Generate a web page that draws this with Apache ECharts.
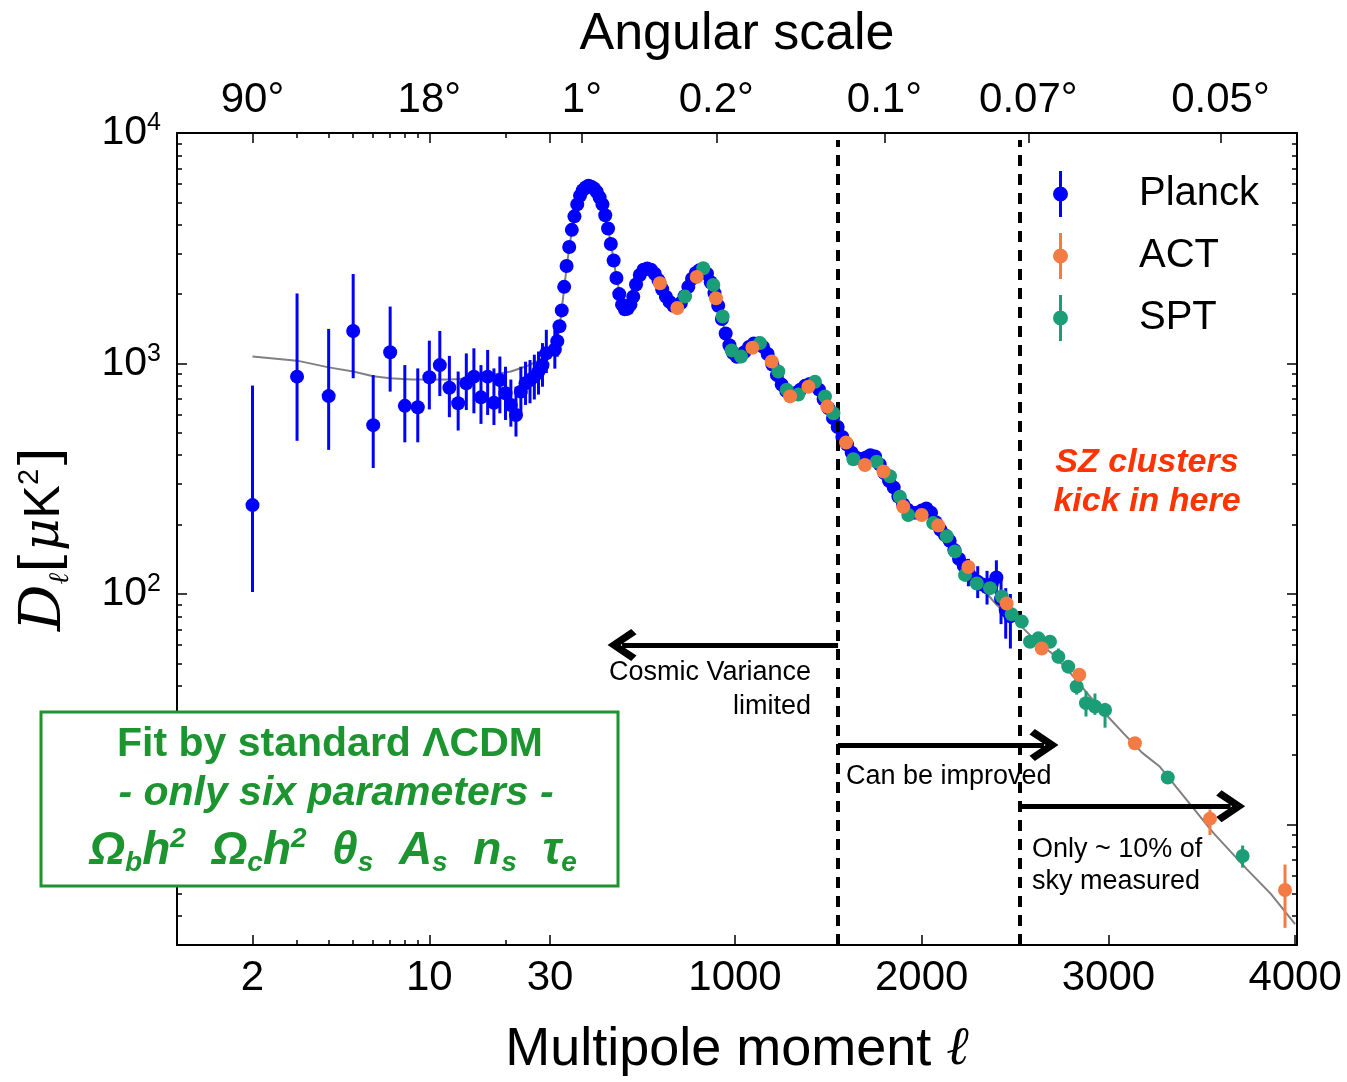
<!DOCTYPE html>
<html>
<head>
<meta charset="utf-8">
<title>CMB TT power spectrum</title>
<script src="https://cdn.jsdelivr.net/npm/echarts@6/dist/echarts.min.js"></script>
<style>
  html, body { margin: 0; padding: 0; background: #fff; }
  #chart { width: 1347px; height: 1082px; }
</style>
</head>
<body>
<div id="chart"></div>
<script>
// Planck low-l points: [l, D_l, lower, upper]
const planckLow = [
  [2, 243, 102, 802], [3, 877, 462, 2013], [4, 722, 422, 1413], [5, 1384, 863, 2444],
  [6, 540, 352, 891], [7, 1119, 755, 1766], [8, 655, 455, 984], [9, 646, 455, 952],
  [10, 871, 632, 1256], [11, 984, 722, 1384], [12, 785, 585, 1079], [13, 672, 512, 923],
  [14, 820, 628, 1106], [15, 877, 608, 1164], [16, 713, 547, 984], [17, 877, 598, 1145],
  [18, 676, 541, 952], [19, 848, 608, 1072], [20, 743, 569, 968], [21, 661, 532, 852],
  [22, 598, 482, 793], [23, 755, 589, 968], [24, 820, 661, 1018], [25, 848, 672, 1035],
  [26, 877, 698, 1092], [27, 923, 733, 1127], [28, 984, 793, 1226], [29, 1108, 909, 1400]
];

// Planck binned high-l: [l, D_l]
const planck = [
  [35, 1150], [48, 1250], [60, 1450], [72, 1700], [85, 2150], [98, 2650], [112, 3200], [126, 3800],
  [140, 4350], [155, 4900], [170, 5350], [185, 5650], [200, 5800], [215, 5900], [230, 5850], [245, 5750],
  [260, 5550], [275, 5250], [290, 4900], [305, 4400], [320, 3850], [335, 3300], [350, 2800], [365, 2350],
  [380, 2000], [395, 1800], [410, 1720], [425, 1730], [440, 1800], [455, 1950], [470, 2200], [490, 2420],
  [510, 2550], [530, 2580], [550, 2550], [570, 2450], [590, 2300], [610, 2100], [630, 1950], [650, 1850],
  [670, 1780], [690, 1770], [710, 1830], [730, 1960], [750, 2150], [770, 2330], [790, 2470], [810, 2540],
  [830, 2550], [850, 2450], [870, 2250], [890, 2020], [910, 1780], [930, 1560], [950, 1350], [970, 1200],
  [990, 1110], [1010, 1070], [1030, 1075], [1050, 1120], [1075, 1180], [1100, 1220], [1125, 1220], [1150, 1180],
  [1175, 1100], [1200, 990], [1225, 890], [1250, 810], [1275, 760], [1300, 740], [1325, 745], [1350, 770],
  [1375, 800], [1400, 815], [1425, 805], [1450, 770], [1475, 700], [1500, 640], [1525, 580], [1550, 530],
  [1575, 480], [1600, 445], [1625, 410], [1650, 390], [1675, 385], [1700, 390], [1725, 400], [1750, 395],
  [1775, 365], [1800, 335], [1825, 310], [1850, 290], [1875, 265], [1900, 245], [1925, 232], [1950, 225],
  [1975, 225], [2000, 230], [2025, 235], [2050, 225], [2075, 205], [2100, 190], [2125, 180], [2150, 170],
  [2175, 155], [2200, 142], [2225, 133], [2250, 125], [2275, 117], [2300, 113], [2325, 110], [2350, 107],
  [2375, 110], [2400, 118], [2425, 95], [2450, 85], [2475, 80]
];
// visible Planck error bars at high l: [l, lower, upper]
const planckErr = [
  [35, 950, 1400], [48, 1070, 1430], [2200, 128, 158], [2250, 108, 142], [2300, 96, 132],
  [2350, 90, 126], [2400, 97, 140], [2425, 74, 118], [2450, 64, 106], [2475, 58, 100]
];

const act = [
  [598, 2230], [691, 1740], [795, 2375], [898, 1920], [1093, 1170], [1197, 1020], [1295, 720], [1393, 793],
  [1494, 650], [1595, 454], [1696, 363], [1795, 340], [1901, 239], [2000, 220], [2089, 198], [2250, 131],
  [2455, 91], [2643, 58], [2844, 44.6], [3142, 22.5], [3544, 10.6], [3946, 5.2]
];
const actErr = [[3544, 9.0, 11.6], [3946, 3.56, 6.7]];

const spt = [
  [732, 1951], [830, 2588], [884, 2193], [934, 1600], [982, 1140], [1032, 1072], [1134, 1226], [1232, 923],
  [1277, 770], [1339, 733], [1428, 833], [1482, 720], [1527, 608], [1634, 384], [1759, 375], [1830, 324],
  [1883, 264], [1928, 220], [2062, 203], [2134, 178], [2178, 153], [2232, 121], [2295, 111], [2366, 106],
  [2429, 97.5], [2482, 81.6], [2536, 75.9], [2580, 62.1], [2625, 64.2], [2687, 62.1], [2732, 53.4], [2785, 48.4],
  [2830, 39.7], [2880, 33.6], [2928, 32.5], [2982, 31.4], [3318, 16.0], [3719, 7.3]
];
const sptErr = [[2732, 50, 58], [2830, 36.6, 42.5], [2880, 29.4, 37.8], [2928, 29.9, 37], [2982, 26.3, 33.7], [3719, 6.5, 8.1]];

// LCDM best fit curve
const theory = [
  [2, 1072], [3, 1029], [4, 962], [5, 923], [6, 880], [7, 863], [8.5, 852], [10, 852], [12, 852], [15, 863],
  [17.5, 891], [21, 923], [24, 970], [30, 1080], [40, 1180], [60, 1430], [80, 1950], [100, 2700], [120, 3500],
  [150, 4600], [180, 5400], [200, 5750], [220, 5880], [240, 5800], [260, 5550], [280, 5150], [300, 4600],
  [320, 3850], [340, 3150], [360, 2500], [380, 2050], [400, 1790], [420, 1720], [440, 1790], [460, 2000],
  [480, 2300], [510, 2540], [540, 2580], [570, 2450], [600, 2200], [630, 1950], [660, 1800], [690, 1760],
  [720, 1880], [750, 2150], [780, 2400], [810, 2540], [830, 2550], [860, 2350], [890, 2020], [920, 1660],
  [950, 1350], [980, 1150], [1010, 1070], [1040, 1090], [1080, 1180], [1120, 1225], [1160, 1160], [1200, 990],
  [1240, 830], [1280, 750], [1320, 745], [1360, 780], [1400, 815], [1440, 785], [1480, 690], [1520, 590],
  [1560, 510], [1600, 445], [1640, 400], [1680, 385], [1720, 395], [1760, 385], [1800, 340], [1840, 300],
  [1880, 262], [1920, 235], [1960, 225], [2000, 228], [2040, 228], [2080, 208], [2120, 183], [2160, 163],
  [2200, 143], [2240, 128], [2280, 116], [2320, 106], [2360, 98], [2400, 90], [2440, 84], [2480, 79],
  [2536, 72], [2600, 64], [2700, 55], [2800, 45], [2900, 36], [2982, 30.3], [3080, 24.9], [3180, 20.5],
  [3276, 17.8], [3419, 12.8], [3562, 9.2], [3741, 6.4], [3870, 5.0], [4000, 3.7]
];

const bottomLabelL = [2, 10, 30, 1000, 2000, 3000, 4000];
const bottomMinorL = [3, 4, 5, 6, 7, 8, 9, 20];
const angleL = [2, 10, 180, 900, 1800, 2571, 3600];
const angleLabels = ['90°', '18°', '1°', '0.2°', '0.1°', '0.07°', '0.05°'];
const yMajor = [10, 100, 1000, 10000];
const yMinor = [4, 5, 6, 7, 8, 9, 20, 30, 40, 50, 60, 70, 80, 90, 200, 300, 400, 500, 600, 700, 800, 900,
  2000, 3000, 4000, 5000, 6000, 7000, 8000, 9000];

const BLUE = '#0000ff', ORANGE = '#f47c44', GREEN = '#1b9e77', BOXGREEN = '#1c9430';
const F = '"Liberation Sans", Arial, sans-serif';

// hybrid x axis: log for l <= 30, linear above
function lx(l) {
  return l <= 30 ? 75.5 + 253 * Math.log10(l / 2) : 371.3 + 0.1867 * l;
}
function ly(d) {
  return Math.log10(d);
}

const bottomMap = {};
bottomLabelL.forEach(l => { bottomMap[lx(l).toFixed(2)] = String(l); });
const topMap = {};
angleL.forEach((l, i) => { topMap[lx(l).toFixed(2)] = angleLabels[i]; });

function errRender(color) {
  return function (params, api) {
    const a = api.coord([api.value(0), api.value(1)]);
    const b = api.coord([api.value(0), api.value(2)]);
    return {
      type: 'line',
      shape: { x1: a[0], y1: a[1], x2: b[0], y2: b[1] },
      style: { stroke: color, lineWidth: 3 }
    };
  };
}

const tickLine = { color: '#000', width: 1.5 };
const X_MIN = 0, X_MAX = 1120, Y_MIN = Math.log10(3), Y_MAX = 4;

function xAx(pos, majors, minorOnly, labels) {
  const ax = {
    type: 'value', position: pos, min: X_MIN, max: X_MAX,
    axisLine: { show: !minorOnly, onZero: false, lineStyle: { color: '#000', width: 2 } },
    splitLine: { show: false },
    axisTick: { inside: true, length: minorOnly ? 5 : 10, customValues: majors.map(lx), lineStyle: tickLine },
    axisLabel: { show: false }
  };
  if (labels) {
    ax.axisLabel = {
      show: true, customValues: majors.map(lx),
      formatter: v => labels[v.toFixed(2)] || '',
      fontSize: 42, fontFamily: F, color: '#000', margin: 12
    };
  }
  return ax;
}
function yAx(pos, vals, minorOnly, withLabels) {
  const ax = {
    type: 'value', position: pos, min: Y_MIN, max: Y_MAX,
    axisLine: { show: !minorOnly, onZero: false, lineStyle: { color: '#000', width: 2 } },
    splitLine: { show: false },
    axisTick: { inside: true, length: minorOnly ? 5 : 10, customValues: vals.map(ly), lineStyle: tickLine },
    axisLabel: { show: false }
  };
  if (withLabels) {
    ax.axisLabel = {
      show: true, customValues: vals.map(ly), margin: 16,
      formatter: v => '{b|10}{s|' + Math.round(v) + '}',
      rich: {
        b: { fontSize: 41, fontFamily: F, color: '#000', lineHeight: 44 },
        s: { fontSize: 25, fontFamily: F, color: '#000', verticalAlign: 'top', lineHeight: 25 }
      }
    };
  }
  return ax;
}

const xBottom = xAx('bottom', bottomLabelL, false, bottomMap);
xBottom.name = '{t|Multipole moment }{l|ℓ}';
xBottom.nameLocation = 'middle';
xBottom.nameGap = 78;
xBottom.nameTextStyle = {
  rich: {
    t: { fontSize: 54, fontFamily: F, color: '#000' },
    l: { fontSize: 54, fontFamily: '"DejaVu Serif", serif', fontStyle: 'italic', color: '#000' }
  }
};
const xTop = xAx('top', angleL, false, topMap);
xTop.axisTick.customValues = [2, 10, 30].concat(angleL).map(lx);
xTop.name = 'Angular scale';
xTop.nameLocation = 'middle';
xTop.nameGap = 72;
xTop.nameTextStyle = { fontSize: 52, fontFamily: F, color: '#000' };

const yLeft = yAx('left', yMajor, false, true);
yLeft.name = '{d|D}{l|ℓ}{b|[}{m|μ}{k|K}{p|2}{b|]}';
yLeft.nameLocation = 'middle';
yLeft.nameRotate = 90;
yLeft.nameGap = 102;
yLeft.nameTextStyle = {
  rich: {
    d: { fontFamily: '"DejaVu Serif", serif', fontStyle: 'italic', fontSize: 58, color: '#000', lineHeight: 60 },
    l: { fontFamily: '"DejaVu Serif", serif', fontStyle: 'italic', fontSize: 28, color: '#000', verticalAlign: 'bottom', lineHeight: 28 },
    b: { fontFamily: '"DejaVu Serif", serif', fontSize: 56, color: '#000', lineHeight: 60 },
    m: { fontFamily: '"DejaVu Serif", serif', fontStyle: 'italic', fontSize: 50, color: '#000', lineHeight: 60 },
    k: { fontFamily: F, fontSize: 50, color: '#000', lineHeight: 60 },
    p: { fontFamily: F, fontSize: 29, color: '#000', verticalAlign: 'top', lineHeight: 29 }
  }
};

// open chevron arrow head, pointing "up" (rotated along the line by ECharts)
const chevron = 'path://M0,22 L15,0 L30,22 L25,27 L15,12 L5,27 Z';
const dashStyle = { color: '#000', width: 4, type: [11, 8] };
const arrowStyle = { color: '#000', width: 5, type: 'solid' };

const legendIcon = 'path://M6,0h3v46h-3z M0,23a7.5,7.5 0 1,1 15,0a7.5,7.5 0 1,1 -15,0z';

const chart = echarts.init(document.getElementById('chart'), null, { renderer: 'canvas' });

const option = {
  animation: false,
  backgroundColor: '#fff',
  grid: { left: 177, right: 50, top: 133, bottom: 137, containLabel: false },
  xAxis: [
    xBottom,
    xTop,
    xAx('bottom', bottomMinorL, true, null),
    xAx('top', bottomMinorL, true, null)
  ],
  yAxis: [
    yLeft,
    yAx('right', yMajor, false, false),
    yAx('left', yMinor, true, false),
    yAx('right', yMinor, true, false)
  ],
  legend: {
    data: ['Planck', 'ACT', 'SPT'],
    orient: 'vertical',
    left: 1048,
    top: 166,
    itemWidth: 15,
    itemHeight: 46,
    itemGap: 16,
    icon: legendIcon,
    selectedMode: false,
    textStyle: { fontSize: 40, fontFamily: F, color: '#000', padding: [0, 0, 0, 66] }
  },
  series: [
    {
      name: 'LCDM', type: 'line', z: 1,
      data: theory.map(p => [lx(p[0]), ly(p[1])]),
      showSymbol: false, symbol: 'none',
      lineStyle: { color: '#808080', width: 2 }
    },
    {
      name: 'Planck err', type: 'custom', z: 2,
      renderItem: errRender(BLUE),
      encode: { x: 0, y: [1, 2] },
      data: planckLow.map(p => [lx(p[0]), ly(p[2]), ly(p[3])])
        .concat(planckErr.map(p => [lx(p[0]), ly(p[1]), ly(p[2])]))
    },
    {
      name: 'Planck', type: 'scatter', z: 3,
      symbolSize: 14,
      itemStyle: { color: BLUE, opacity: 1 },
      data: planckLow.map(p => [lx(p[0]), ly(p[1])])
        .concat(planck.map(p => [lx(p[0]), ly(p[1])]))
    },
    {
      name: 'ACT err', type: 'custom', z: 4,
      renderItem: errRender(ORANGE),
      encode: { x: 0, y: [1, 2] },
      data: actErr.map(p => [lx(p[0]), ly(p[1]), ly(p[2])])
    },
    {
      name: 'SPT err', type: 'custom', z: 4,
      renderItem: errRender(GREEN),
      encode: { x: 0, y: [1, 2] },
      data: sptErr.map(p => [lx(p[0]), ly(p[1]), ly(p[2])])
    },
    {
      name: 'SPT', type: 'scatter', z: 5,
      symbolSize: 14,
      itemStyle: { color: GREEN, opacity: 1 },
      data: spt.map(p => [lx(p[0]), ly(p[1])])
    },
    {
      name: 'ACT', type: 'scatter', z: 6,
      symbolSize: 14,
      itemStyle: { color: ORANGE, opacity: 1 },
      data: act.map(p => [lx(p[0]), ly(p[1])]),
      markLine: {
        silent: true,
        animation: false,
        label: { show: false },
        emphasis: { disabled: true },
        data: [
          [{ coord: [lx(1552), Y_MIN], symbol: 'none', lineStyle: dashStyle }, { coord: [lx(1552), 3.97], symbol: 'none' }],
          [{ coord: [lx(2526), Y_MIN], symbol: 'none', lineStyle: dashStyle }, { coord: [lx(2526), 3.97], symbol: 'none' }],
          [{ coord: [lx(1552), ly(60.1)], symbol: 'none', lineStyle: arrowStyle }, { coord: [lx(395), ly(60.1)], symbol: chevron, symbolSize: [32, 29] }],
          [{ coord: [lx(1552), ly(22.1)], symbol: 'none', lineStyle: arrowStyle }, { coord: [lx(2655), ly(22.1)], symbol: chevron, symbolSize: [32, 29] }],
          [{ coord: [lx(2526), ly(12.0)], symbol: 'none', lineStyle: arrowStyle }, { coord: [lx(3655), ly(12.0)], symbol: chevron, symbolSize: [32, 29] }]
        ]
      }
    }
  ],
  graphic: [
    {
      type: 'text', x: 811, y: 656, z: 100,
      style: { text: 'Cosmic Variance\nlimited', align: 'right', verticalAlign: 'top', fontSize: 27, fontFamily: F, fill: '#000', lineHeight: 34 }
    },
    {
      type: 'text', x: 846, y: 760, z: 100,
      style: { text: 'Can be improved', align: 'left', verticalAlign: 'top', fontSize: 27, fontFamily: F, fill: '#000', lineHeight: 34 }
    },
    {
      type: 'text', x: 1032, y: 834, z: 100,
      style: { text: 'Only ~ 10% of\nsky measured', align: 'left', verticalAlign: 'top', fontSize: 27, fontFamily: F, fill: '#000', lineHeight: 32 }
    },
    {
      type: 'text', x: 1147, y: 443, z: 100,
      style: { text: 'SZ clusters\nkick in here', align: 'center', verticalAlign: 'top', fontSize: 34, fontWeight: 'bold', fontStyle: 'italic', fontFamily: F, fill: '#ff3300', lineHeight: 39 }
    },
    {
      type: 'rect', z: 100,
      shape: { x: 41, y: 712, width: 577, height: 174 },
      style: { fill: '#fff', stroke: BOXGREEN, lineWidth: 3 }
    },
    {
      type: 'text', x: 330, y: 745, z: 101,
      style: { text: 'Fit by standard ΛCDM', align: 'center', verticalAlign: 'middle', fontSize: 41, fontWeight: 'bold', fontFamily: F, fill: BOXGREEN }
    },
    {
      type: 'text', x: 336, y: 794, z: 101,
      style: { text: '- only six parameters -', align: 'center', verticalAlign: 'middle', fontSize: 41, fontWeight: 'bold', fontStyle: 'italic', fontFamily: F, fill: BOXGREEN }
    },
    {
      type: 'text', x: 333, y: 851, z: 101,
      style: {
        text: '{o|Ω}{s|b}{o|h}{p|2}{o|  Ω}{s|c}{o|h}{p|2}{o|  θ}{s|s}{o|  A}{s|s}{o|  n}{s|s}{o|  τ}{s|e}',
        align: 'center', verticalAlign: 'middle',
        fontSize: 46, fontWeight: 'bold', fontStyle: 'italic', fontFamily: F, fill: BOXGREEN,
        rich: {
          o: { fontSize: 46, fontWeight: 'bold', fontStyle: 'italic', fontFamily: F, fill: BOXGREEN, lineHeight: 52 },
          s: { fontSize: 28, fontWeight: 'bold', fontStyle: 'italic', fontFamily: F, fill: BOXGREEN, verticalAlign: 'bottom', lineHeight: 28 },
          p: { fontSize: 28, fontWeight: 'bold', fontStyle: 'italic', fontFamily: F, fill: BOXGREEN, verticalAlign: 'top', lineHeight: 28 }
        }
      }
    }
  ]
};

chart.setOption(option);
</script>
</body>
</html>
